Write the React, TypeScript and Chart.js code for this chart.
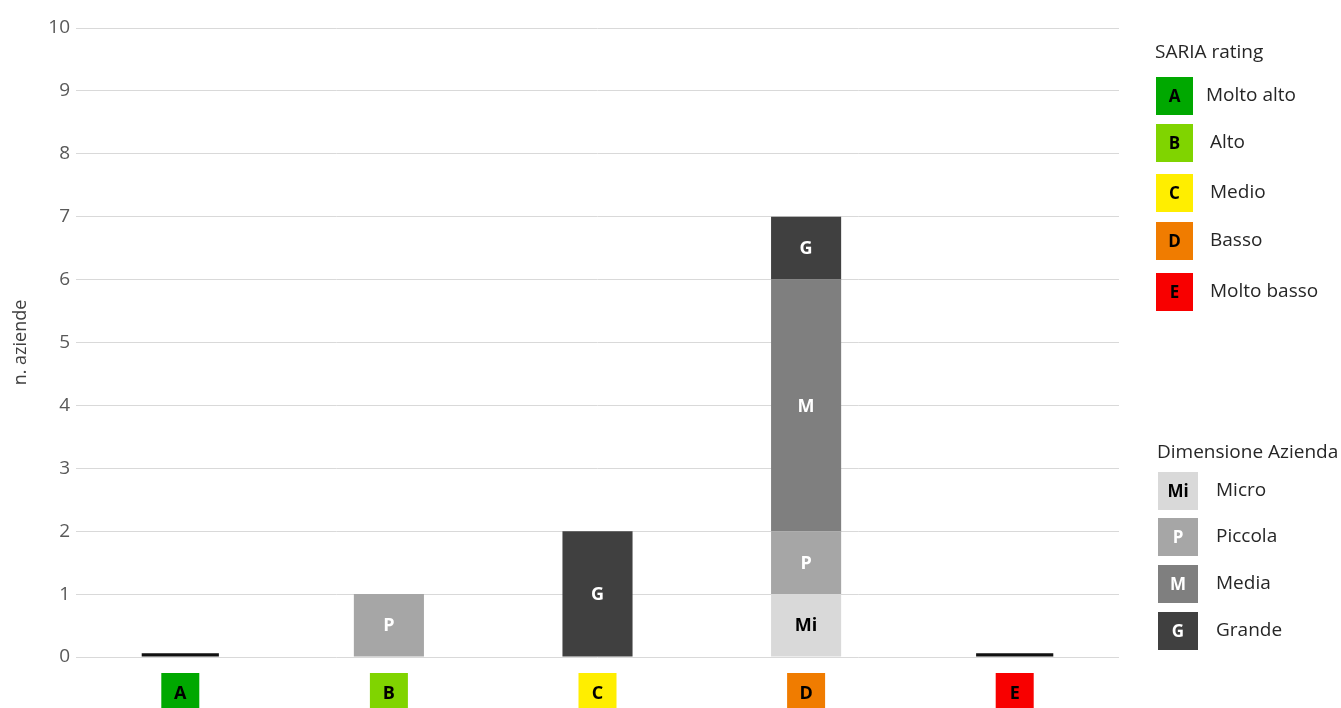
import { useEffect, useRef } from 'react';
import { Chart, registerables } from 'chart.js';

Chart.register(...registerables);

const FONT = "'Open Sans', 'Liberation Sans', sans-serif";

const categories = ['A', 'B', 'C', 'D', 'E'];
const ratingColors = ['#00a800', '#80d400', '#ffee00', '#f07c00', '#f80000'];
const ratingNames = ['Molto alto', 'Alto', 'Medio', 'Basso', 'Molto basso'];

const sizeCodes = ['Mi', 'P', 'M', 'G'];
const sizeNames = ['Micro', 'Piccola', 'Media', 'Grande'];
const sizeColors = ['#d9d9d9', '#a6a6a6', '#7f7f7f', '#404040'];
const sizeTextColors = ['#000000', '#ffffff', '#ffffff', '#ffffff'];

const microValues = [0, 0, 0, 1, 0];
const piccolaValues = [0, 1, 0, 1, 0];
const mediaValues = [0, 0, 0, 4, 0];
const grandeValues = [0, 0, 2, 1, 0];
const zeroMarker = [0.06, 0, 0, 0, 0.06];

const yMin = 0;
const yMax = 10;
const yStep = 1;

const sizeSeries = [microValues, piccolaValues, mediaValues, grandeValues];

const customPlugin = {
  id: 'customDecor',
  afterDatasetsDraw(chart: any) {
    const ctx = chart.ctx;
    ctx.save();
    ctx.textAlign = 'center';
    ctx.textBaseline = 'middle';
    ctx.font = `bold 18px ${FONT}`;
    sizeSeries.forEach((vals, k) => {
      const meta = chart.getDatasetMeta(k + 1);
      vals.forEach((v, j) => {
        if (v > 0) {
          const el: any = meta.data[j];
          ctx.fillStyle = sizeTextColors[k];
          ctx.fillText(sizeCodes[k], el.x, (el.y + el.base) / 2 + 1);
        }
      });
    });
    ctx.restore();
  },
  afterDraw(chart: any) {
    const ctx = chart.ctx;
    const xs = chart.scales.x;
    ctx.save();
    // category boxes
    categories.forEach((c, i) => {
      const x = xs.getPixelForValue(i);
      ctx.fillStyle = ratingColors[i];
      ctx.fillRect(x - 19, 673, 38, 38);
      ctx.fillStyle = '#000';
      ctx.font = `bold 18px ${FONT}`;
      ctx.textAlign = 'center';
      ctx.textBaseline = 'middle';
      ctx.fillText(c, x, 694);
    });
    // legend 1
    ctx.textAlign = 'left';
    ctx.textBaseline = 'middle';
    ctx.fillStyle = '#262626';
    ctx.font = `19px ${FONT}`;
    ctx.fillText('SARIA rating', 1155, 53);
    const ratingY = [96, 143, 193, 241, 292];
    const ratingLabelX = [1206, 1210, 1210, 1210, 1210];
    categories.forEach((c, i) => {
      const cy = ratingY[i];
      ctx.fillStyle = ratingColors[i];
      ctx.fillRect(1156, cy - 19, 37, 38);
      ctx.fillStyle = '#000';
      ctx.font = `bold 17px ${FONT}`;
      ctx.textAlign = 'center';
      ctx.fillText(c, 1174.5, cy + 1);
      ctx.textAlign = 'left';
      ctx.fillStyle = '#262626';
      ctx.font = `19px ${FONT}`;
      ctx.fillText(ratingNames[i], ratingLabelX[i], cy);
    });
    // legend 2
    ctx.fillStyle = '#262626';
    ctx.font = `19px ${FONT}`;
    ctx.fillText('Dimensione Azienda', 1157, 453);
    const sizeY = [491, 537, 584, 631];
    sizeCodes.forEach((code, k) => {
      const cy = sizeY[k];
      ctx.fillStyle = sizeColors[k];
      ctx.fillRect(1158, cy - 19, 40, 38);
      ctx.fillStyle = sizeTextColors[k];
      ctx.font = `bold 17px ${FONT}`;
      ctx.textAlign = 'center';
      ctx.fillText(code, 1178, cy + 1);
      ctx.textAlign = 'left';
      ctx.fillStyle = '#262626';
      ctx.font = `19px ${FONT}`;
      ctx.fillText(sizeNames[k], 1216, cy);
    });
    ctx.restore();
  },
};

export default function App() {
  const ref = useRef<HTMLCanvasElement>(null);
  useEffect(() => {
    document.body.style.margin = '0';
    Chart.defaults.font.family = FONT;
    const chart = new Chart(ref.current as HTMLCanvasElement, {
      type: 'bar',
      data: {
        labels: categories,
        datasets: [
          {
            label: 'zero',
            data: zeroMarker,
            backgroundColor: '#111111',
            barPercentage: 0.37,
            categoryPercentage: 1,
          },
          ...sizeSeries.map((vals, k) => ({
            label: sizeNames[k],
            data: vals,
            backgroundColor: sizeColors[k],
            barPercentage: 0.336,
            categoryPercentage: 1,
          })),
        ],
      },
      options: {
        responsive: false,
        animation: false,
        layout: { padding: { top: 28, right: 222, bottom: 0, left: 0 } },
        plugins: {
          legend: { display: false },
          tooltip: { enabled: false },
        },
        scales: {
          x: {
            stacked: true,
            grid: { display: false },
            border: { display: false },
            ticks: { display: false },
            afterFit: (s: any) => {
              s.height = 51;
            },
          },
          y: {
            stacked: true,
            min: yMin,
            max: yMax,
            ticks: {
              stepSize: yStep,
              color: '#595959',
              font: { family: FONT, size: 19 },
              padding: 6,
            },
            grid: { color: '#d9d9d9', drawTicks: false },
            border: { display: false },
            title: {
              display: true,
              text: 'n. aziende',
              color: '#404040',
              font: { family: FONT, size: 18 },
              padding: { top: 10, bottom: 0 },
            },
            afterFit: (s: any) => {
              s.width = 76;
            },
          },
        },
      },
      plugins: [customPlugin],
    });
    return () => chart.destroy();
  }, []);
  return (
    <div style={{ position: 'fixed', left: 0, top: 0, width: 1341, height: 708, background: '#fff' }}>
      <canvas ref={ref} width={1341} height={708} style={{ width: 1341, height: 708 }} />
    </div>
  );
}
